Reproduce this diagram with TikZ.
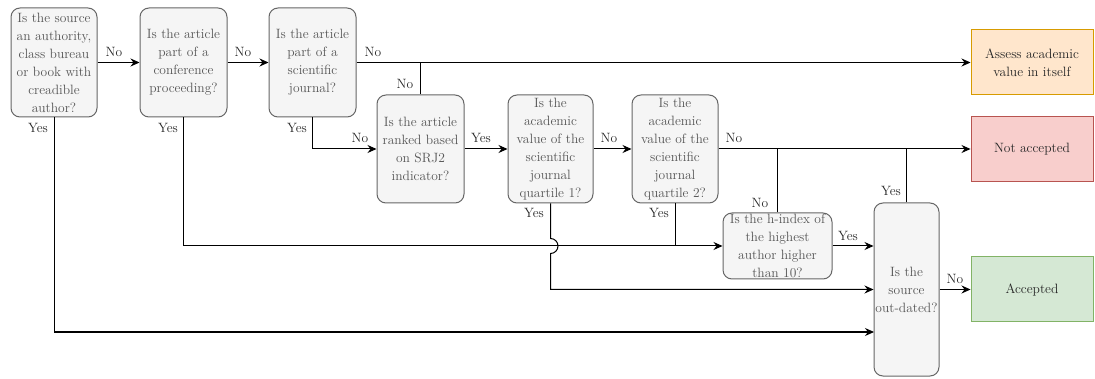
\documentclass[tikz,border=0pt]{standalone}
\usepackage{tikz}
\usetikzlibrary{arrows.meta}
\definecolor{BoxFill}{HTML}{F5F5F5}
\definecolor{BoxLine}{HTML}{666666}
\definecolor{BoxText}{HTML}{555555}
\definecolor{AssessFill}{HTML}{FFE6CC}
\definecolor{AssessLine}{HTML}{D79B00}
\definecolor{RejectFill}{HTML}{F8CECC}
\definecolor{RejectLine}{HTML}{B85450}
\definecolor{AcceptFill}{HTML}{D5E8D4}
\definecolor{AcceptLine}{HTML}{82B366}

\begin{document}
\begin{tikzpicture}[x=1pt,y=-1pt,every text node part/.style={align=center},
  question/.style={draw=BoxLine, fill=BoxFill, text=BoxText, rounded corners=9pt, line width=1pt, inner sep=0pt, font=\fontsize{13.5}{18}\selectfont},
  outcome/.style={line width=1pt, minimum width=122pt, minimum height=65pt, inner sep=0pt, text=black!85, font=\fontsize{13.5}{18}\selectfont},
  flow/.style={-{Stealth[length=9pt,width=8pt,inset=3pt]}, line width=1pt},
  link/.style={line width=1pt},
  lbl/.style={inner sep=0pt, text=black!85, font=\fontsize{13.5}{16}\selectfont}]

  \useasboundingbox (0,0) rectangle (1095,379);

  % Questions
  \node[question, minimum width=86pt, minimum height=109pt] (q1) at (54,62.5) {Is the source\\an authority,\\class bureau\\or book with\\creadible\\author?};
  \node[question, minimum width=87pt, minimum height=109pt] (q2) at (183.5,62.5) {Is the article\\part of a\\conference\\proceeding?};
  \node[question, minimum width=87pt, minimum height=109pt] (q3) at (312.5,62.5) {Is the article\\part of a\\scientific\\journal?};
  \node[question, minimum width=87pt, minimum height=108pt] (q4) at (420.5,149) {Is the article\\ranked based\\on SRJ2\\indicator?};
  \node[question, minimum width=85pt, minimum height=108pt] (q5) at (550.5,149) {Is the\\academic\\value of the\\scientific\\journal\\quartile 1?};
  \node[question, minimum width=86pt, minimum height=108pt] (q6) at (675,149) {Is the\\academic\\value of the\\scientific\\journal\\quartile 2?};
  \node[question, minimum width=109pt, minimum height=66pt] (q7) at (777.5,246) {Is the h-index of\\the highest\\author higher\\than 10?};
  \node[question, minimum width=65pt, minimum height=173pt] (q8) at (906.5,289.5) {Is the\\source\\out-dated?};

  % Outcomes
  \node[outcome, draw=AssessLine, fill=AssessFill] (assess) at (1032,62.5) {Assess academic\\value in itself};
  \node[outcome, draw=RejectLine, fill=RejectFill] (notacc) at (1032,149) {Not accepted};
  \node[outcome, draw=AcceptLine, fill=AcceptFill] (acc) at (1032,289.5) {Accepted};

  \coordinate (inA) at (874,332);

  % Connectors
  \draw[flow] (q1) -- (q2);
  \draw[flow] (q2) -- (q3);
  \draw[flow] (q3) -- (assess);
  \draw[link] (q4.north) -- (q4.north |- q3);
  \draw[flow] (q3.south) |- (q4);
  \draw[flow] (q4) -- (q5);
  \draw[flow] (q5) -- (q6);
  \draw[flow] (q6) -- (notacc);
  \draw[link] (q7.north) -- (q7.north |- q6);
  \draw[link] (q8.north) -- (q8.north |- q6);
  \draw[flow] (q2.south) |- (q7);
  \draw[link] (q6.south) -- (q6.south |- q7);
  \draw[flow] (q5.south) -- (550.5,238.5) arc[start angle=90, end angle=-90, radius=7.5pt] |- (q8);
  \draw[flow] (q7) -- (q7 -| q8.west);
  \draw[flow] (q1.south) |- (inA);
  \draw[flow] (q8) -- (acc);

  % Labels
  \node[lbl] (no1) at (114,52) {No};
  \node[lbl] (no2) at (243,52) {No};
  \node[lbl] (no3) at (373,52) {No};
  \node[lbl] (no4) at (405,84) {No};
  \node[lbl] (no5) at (360,138) {No};
  \node[lbl] (no6) at (609,138) {No};
  \node[lbl] (no7) at (734,138) {No};
  \node[lbl] (no8) at (760,203) {No};
  \node[lbl] (no9) at (955,279) {No};
  \node[lbl] (yes1) at (38,128) {Yes};
  \node[lbl] (yes2) at (168,128) {Yes};
  \node[lbl] (yes3) at (297,128) {Yes};
  \node[lbl] (yes4) at (481,138) {Yes};
  \node[lbl] (yes5) at (534,213) {Yes};
  \node[lbl] (yes6) at (659,213) {Yes};
  \node[lbl] (yes7) at (848,236) {Yes};
  \node[lbl] (yes8) at (891,191) {Yes};

\end{tikzpicture}
\end{document}
